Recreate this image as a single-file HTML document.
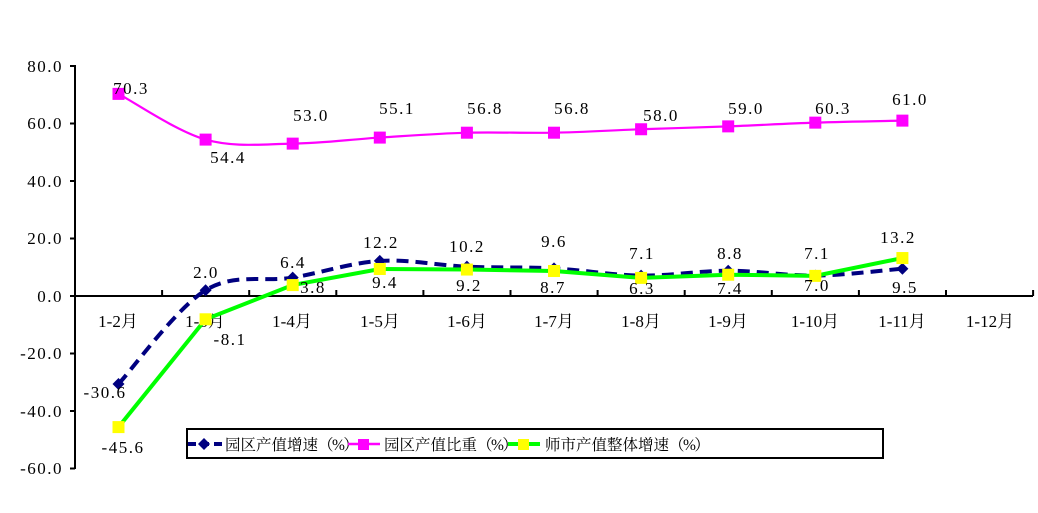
<!DOCTYPE html>
<html><head><meta charset="utf-8"><style>
html,body{margin:0;padding:0;background:#fff;}
svg text{font-family:"Liberation Serif","Noto Serif CJK SC",serif;font-size:17px;letter-spacing:1.5px;fill:#000;}
svg text.cj{font-size:17px;letter-spacing:0;}
svg text.lg{font-size:15.5px;letter-spacing:0;}
svg tspan.p{letter-spacing:-1.5px;}
</style></head><body>
<svg id="s" width="1038" height="508" viewBox="0 0 1038 508" xmlns="http://www.w3.org/2000/svg">
<rect width="1038" height="508" fill="#fff"/>
<g stroke="#000" stroke-width="2">
<line x1="75" y1="65" x2="75" y2="469"/>
<line x1="75" y1="296" x2="1033" y2="296"/>
<line x1="70" y1="66" x2="75" y2="66"/><line x1="70" y1="123.5" x2="75" y2="123.5"/>
<line x1="70" y1="181" x2="75" y2="181"/><line x1="70" y1="238.5" x2="75" y2="238.5"/>
<line x1="70" y1="296" x2="75" y2="296"/><line x1="70" y1="353.5" x2="75" y2="353.5"/>
<line x1="70" y1="411" x2="75" y2="411"/><line x1="70" y1="468.5" x2="75" y2="468.5"/>
<g id="xt"></g>
</g>
<g text-anchor="end">
<text x="63" y="72">80.0</text><text x="63" y="129">60.0</text><text x="63" y="187">40.0</text>
<text x="63" y="244">20.0</text><text x="63" y="302">0.0</text><text x="63" y="359">-20.0</text>
<text x="63" y="417">-40.0</text><text x="63" y="474">-60.0</text>
</g>
<g text-anchor="middle">
<text class="cj" x="118" y="327">1-2月</text><text class="cj" x="205" y="327">1-3月</text>
<text class="cj" x="292" y="327">1-4月</text><text class="cj" x="380" y="327">1-5月</text>
<text class="cj" x="467" y="327">1-6月</text><text class="cj" x="554" y="327">1-7月</text>
<text class="cj" x="641" y="327">1-8月</text><text class="cj" x="728" y="327">1-9月</text>
<text class="cj" x="815" y="327">1-10月</text><text class="cj" x="902" y="327">1-11月</text>
<text class="cj" x="990" y="327">1-12月</text>
</g>
<g id="series"></g>
<g text-anchor="middle">
<text x="131" y="94">70.3</text><text x="228" y="163">54.4</text><text x="311" y="121">53.0</text>
<text x="397" y="114">55.1</text><text x="485" y="114">56.8</text><text x="572" y="114">56.8</text>
<text x="661" y="121">58.0</text><text x="746" y="114">59.0</text><text x="833" y="114">60.3</text>
<text x="910" y="105">61.0</text>
<text x="105" y="398">-30.6</text><text x="206" y="278">2.0</text><text x="293" y="268">6.4</text>
<text x="381" y="248">12.2</text><text x="467" y="252">10.2</text><text x="554" y="247">9.6</text>
<text x="642" y="259">7.1</text><text x="730" y="259">8.8</text><text x="817" y="259">7.1</text>
<text x="905" y="293">9.5</text>
<text x="123" y="453">-45.6</text><text x="230" y="345">-8.1</text><text x="313" y="293">3.8</text>
<text x="385" y="288">9.4</text><text x="469" y="291">9.2</text><text x="553" y="293">8.7</text>
<text x="642" y="294">6.3</text><text x="730" y="294">7.4</text><text x="817" y="291">7.0</text>
<text x="898" y="243">13.2</text>
</g>
<rect x="187" y="429" width="696" height="29" fill="#fff" stroke="#000" stroke-width="2"/>
<line x1="188" y1="444" x2="222" y2="444" stroke="#000080" stroke-width="4" stroke-dasharray="8,5"/>
<path d="M204 438 L210 444 L204 450 L198 444Z" fill="#000080"/>
<text class="lg" x="225" y="450">园区产值增速<tspan class="p">（%）</tspan></text>
<line x1="348" y1="444" x2="380" y2="444" stroke="#ff00ff" stroke-width="2.5"/>
<rect x="358" y="439" width="11" height="11" fill="#ff00ff"/>
<text class="lg" x="384" y="450">园区产值比重<tspan class="p">（%）</tspan></text>
<line x1="508" y1="444" x2="540" y2="444" stroke="#00ff00" stroke-width="4"/>
<rect x="518" y="439" width="11" height="11" fill="#ffff00"/>
<text class="lg" x="545" y="450">师市产值整体增速<tspan class="p">（%）</tspan></text>
</svg>
<script>
var X=[];for(var i=0;i<11;i++)X.push(118.5+87.1*i);
function Y(v){return 296-v*2.875;}
var xt='';for(var i=0;i<=11;i++){var x=75+87.1*i;xt+='<line x1="'+x+'" y1="290" x2="'+x+'" y2="296"/>';}
document.getElementById('xt').innerHTML=xt;
var b=[-30.6,2.0,6.4,12.2,10.2,9.6,7.1,8.8,7.1,9.5],
m=[70.3,54.4,53.0,55.1,56.8,56.8,58.0,59.0,60.3,61.0],
g=[-45.6,-8.1,3.8,9.4,9.2,8.7,6.3,7.4,7.0,13.2];
function smooth(a){var p=a.map(function(v,i){return[X[i],Y(v)]});var d='M'+p[0];
for(var i=0;i<p.length-1;i++){var p0=p[i-1]||p[i],p1=p[i],p2=p[i+1],p3=p[i+2]||p2;var t=6;
d+=' C'+(p1[0]+(p2[0]-p0[0])/t)+','+(p1[1]+(p2[1]-p0[1])/t)+' '+(p2[0]-(p3[0]-p1[0])/t)+','+(p2[1]-(p3[1]-p1[1])/t)+' '+p2[0]+','+p2[1];}return d;}
function poly(a){return a.map(function(v,i){return X[i]+','+Y(v)}).join(' ');}
var s='';
s+='<path d="'+smooth(m)+'" fill="none" stroke="#ff00ff" stroke-width="2.2"/>';
m.forEach(function(v,i){s+='<rect x="'+(X[i]-6)+'" y="'+(Y(v)-6)+'" width="12" height="12" fill="#ff00ff"/>';});
s+='<path d="'+smooth(b)+'" fill="none" stroke="#000080" stroke-width="4" stroke-dasharray="12,7"/>';
s+='<polyline points="'+poly(g)+'" fill="none" stroke="#00ff00" stroke-width="4"/>';
b.forEach(function(v,i){var x=X[i],y=Y(v);s+='<path d="M'+x+' '+(y-6)+' L'+(x+6)+' '+y+' L'+x+' '+(y+6)+' L'+(x-6)+' '+y+'Z" fill="#000080"/>';});
g.forEach(function(v,i){s+='<rect x="'+(X[i]-6)+'" y="'+(Y(v)-6)+'" width="12" height="12" fill="#ffff00"/>';});
document.getElementById('series').innerHTML=s;
</script>
</body></html>
